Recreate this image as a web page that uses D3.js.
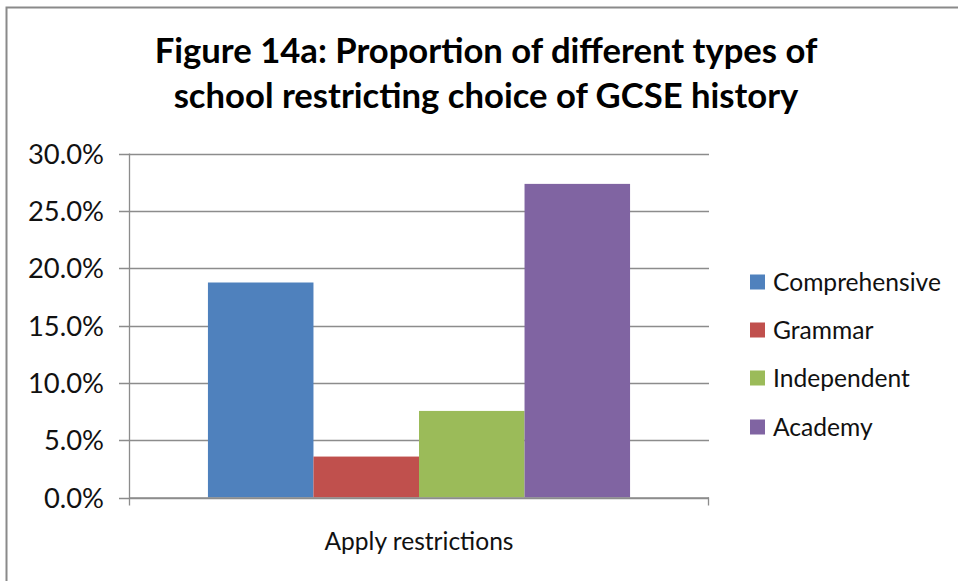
<!DOCTYPE html>
<html>
<head>
<meta charset="utf-8">
<script src="https://cdn.jsdelivr.net/npm/d3@7"></script>
<style>
  html, body { margin: 0; padding: 0; background: #fff; }
  svg { display: block; }
  text { font-family: Lato, "Open Sans", sans-serif; }
</style>
</head>
<body>
<svg id="chart" width="958" height="581"></svg>
<script>
// ---- data ----
const categories = ["Apply restrictions"];
const seriesNames = ["Comprehensive", "Grammar", "Independent", "Academy"];
const seriesValues = [0.1875, 0.0357, 0.0755, 0.2735];
const seriesColors = ["#4F81BD", "#C0504D", "#9BBB59", "#8064A2"];
const yTicks = [0, 0.05, 0.10, 0.15, 0.20, 0.25, 0.30];
const titleLines = ["Figure 14a: Proportion of different types of", "school restricting choice of GCSE history"];

const svg = d3.select("#chart");
const W = 958, H = 581;
svg.append("rect").attr("width", W).attr("height", H).attr("fill", "#fff");

// outer frame (chart area border, right/bottom cut off)
svg.append("rect")
  .attr("x", 6.5).attr("y", 7.5).attr("width", W + 10).attr("height", H + 10)
  .attr("fill", "none").attr("stroke", "#8a8a8a").attr("stroke-width", 2);

// helper: fit font size to a target width
function fit(sel, targetW) {
  sel.attr("font-size", 100);
  const w = sel.node().getComputedTextLength();
  sel.attr("font-size", 100 * targetW / w);
}

const plot = { left: 129, right: 709, top: 153.5, bottom: 497.5 };

const x0 = d3.scaleBand().domain(categories).range([plot.left, plot.right]).paddingInner(0).paddingOuter(0.187);
const x1 = d3.scaleBand().domain(seriesNames).range([0, x0.bandwidth()]).padding(0);
const y = d3.scaleLinear().domain([0, 0.30]).range([plot.bottom, plot.top]);

// gridlines
const grid = svg.append("g");
grid.selectAll("line").data(yTicks).join("line")
  .attr("x1", plot.left - 10).attr("x2", plot.right)
  .attr("y1", d => Math.round(y(d)) + 0.5).attr("y2", d => Math.round(y(d)) + 0.5)
  .attr("stroke", "#8c8c8c").attr("stroke-width", 1.3);

// bars
const g = svg.append("g");
categories.forEach(c => {
  g.selectAll("rect.bar").data(seriesValues).join("rect")
    .attr("class", "bar")
    .attr("x", (d, i) => x0(c) + x1(seriesNames[i]))
    .attr("width", x1.bandwidth())
    .attr("y", d => y(d))
    .attr("height", d => y(0) - y(d))
    .attr("fill", (d, i) => seriesColors[i]);
});

// y axis
const yAxis = d3.axisLeft(y).tickValues(yTicks).tickFormat(d3.format(".1%")).tickSize(0).tickPadding(0);
const ya = svg.append("g").attr("transform", `translate(${plot.left},0)`).call(yAxis);
ya.select(".domain").remove();
ya.append("line").attr("x1", 0.5).attr("x2", 0.5).attr("y1", plot.top).attr("y2", plot.bottom + 8)
  .attr("stroke", "#8c8c8c").attr("stroke-width", 1.3);
ya.selectAll(".tick text").attr("x", 104 - plot.left).attr("dy", "0.35em")
  .attr("fill", "#111").style("font-family", "Lato, sans-serif");
{
  const t = ya.selectAll(".tick text").filter(d => d === 0.30);
  t.attr("font-size", 100);
  const w = t.node().getComputedTextLength();
  ya.selectAll(".tick text").attr("font-size", 100 * 76 / w);
}

// x axis
const xAxis = d3.axisBottom(x0).tickSize(0).tickPadding(0);
const xa = svg.append("g").attr("transform", `translate(0,${plot.bottom})`).call(xAxis);
xa.select(".domain").remove();
xa.append("line").attr("x1", plot.left).attr("x2", plot.right).attr("y1", 0.5).attr("y2", 0.5)
  .attr("stroke", "#8c8c8c").attr("stroke-width", 1.3);
xa.append("line").attr("x1", plot.right - 0.5).attr("x2", plot.right - 0.5).attr("y1", 0).attr("y2", 8)
  .attr("stroke", "#8c8c8c").attr("stroke-width", 1.3);
xa.selectAll(".tick text").attr("y", 52).attr("dy", 0).attr("fill", "#111")
  .style("font-family", "Lato, sans-serif")
  .each(function () { fit(d3.select(this), 189); });

// title
const title = svg.append("g");
const t1 = title.append("text").attr("x", 486).attr("y", 63).attr("text-anchor", "middle")
  .attr("font-weight", "bold").attr("fill", "#000").text(titleLines[0]);
fit(t1, 663);
const fs = +t1.attr("font-size");
title.append("text").attr("x", 486).attr("y", 108).attr("text-anchor", "middle")
  .attr("font-weight", "bold").attr("fill", "#000").attr("font-size", fs).text(titleLines[1]);

// legend
const legY = [282, 330, 378, 427];
const leg = svg.append("g");
const items = leg.selectAll("g").data(seriesNames).join("g")
  .attr("transform", (d, i) => `translate(750,${legY[i]})`);
items.append("rect").attr("x", 0).attr("y", -7.5).attr("width", 15).attr("height", 15)
  .attr("fill", (d, i) => seriesColors[i]);
const lt = items.append("text").attr("x", 23).attr("dy", "0.35em").attr("fill", "#111").text(d => d);
{
  const first = lt.filter((d, i) => i === 0);
  first.attr("font-size", 100);
  const w = first.node().getComputedTextLength();
  lt.attr("font-size", 100 * 168 / w);
}
</script>
</body>
</html>
